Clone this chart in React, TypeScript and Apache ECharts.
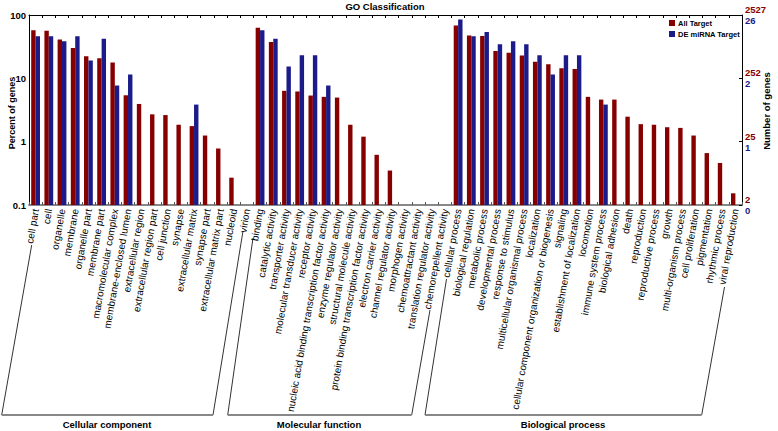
import React, { useEffect, useRef } from 'react';
import * as echarts from 'echarts';

const categories = [
  'cell part', 'cell', 'organelle', 'membrane', 'organelle part', 'membrane part',
  'macromolecular complex', 'membrane-enclosed lumen', 'extracellular region',
  'extracellular region part', 'cell junction', 'synapse', 'extracellular matrix',
  'synapse part', 'extracellular matrix part', 'nucleoid', 'virion',
  'binding', 'catalytic activity', 'transporter activity', 'molecular transducer activity',
  'receptor activity', 'nucleic acid binding transcription factor activity',
  'enzyme regulator activity', 'structural molecule activity',
  'protein binding transcription factor activity', 'electron carrier activity',
  'channel regulator activity', 'morphogen activity', 'chemoattractant activity',
  'translation regulator activity', 'chemorepellent activity',
  'cellular process', 'biological regulation', 'metabolic process', 'developmental process',
  'response to stimulus', 'multicellular organismal process', 'localization',
  'cellular component organization or biogenesis', 'signaling',
  'establishment of localization', 'locomotion', 'immune system process',
  'biological adhesion', 'death', 'reproduction', 'reproductive process', 'growth',
  'multi-organism process', 'cell proliferation', 'pigmentation', 'rhythmic process',
  'viral reproduction',
];

const allTarget: (number | null)[] = [
  57.6, 56.3, 40.9, 30.1, 22.4, 20.8, 17.8, 5.4, 3.94, 2.7, 2.63, 1.85, 1.76, 1.25, 0.78, 0.27, null,
  62.8, 37.5, 6.35, 6.2, 5.35, 5.1, 4.97, 1.85, 1.2, 0.62, 0.35, null, null, null, null,
  68.4, 47.4, 46.8, 27, 25.4, 23, 18.2, 16.7, 14.4, 14.1, 5.1, 4.62, 4.62, 2.48, 1.89, 1.85,
  1.69, 1.65, 1.25, 0.66, 0.46, 0.153,
];

const deTarget: (number | null)[] = [
  46.2, 46.2, 38.5, 46.2, 19.2, 42.3, 7.7, 11.5, null, null, null, null, 3.85, null, null, null, null,
  57.7, 42.3, 15.4, 23.1, 23.1, 7.7, null, null, null, null, null, null, null, null, null,
  84.6, 46.2, 53.8, 34.6, 38.5, 34.6, 23.1, 11.5, 23.1, 23.1, null, 3.85, null, null, null, null,
  null, null, null, null, null, null,
];

const leftTickLabels = ['0.1', '1', '10', '100'];
const rightAllTickLabels = ['2', '25', '252', '2527'];
const rightDeTickLabels = ['0', '1', '2', '26'];

const groupNames = ['Cellular component', 'Molecular function', 'Biological process'];

const RED = '#860000';
const BLUE = '#1b1b8a';
const SANS = "'Liberation Sans', Arial, sans-serif";

const tickIndex = (v: number) => Math.round(Math.log10(v)) + 1;

export default function App() {
  const ref = useRef<HTMLDivElement>(null);
  useEffect(() => {
    if (!ref.current) return;
    const chart = echarts.init(ref.current, null, { renderer: 'svg' });
    const bracketStyle = { stroke: '#333', lineWidth: 1, fill: null as any };
    const boldText = { fontWeight: 'bold', fontFamily: SANS, fill: '#000' };
    const option: any = {
      animation: false,
      backgroundColor: '#fff',
      grid: { left: 29, right: 36, top: 15, bottom: 226, containLabel: false },
      legend: {
        orient: 'vertical',
        left: 669,
        top: 19,
        itemWidth: 6,
        itemHeight: 6,
        itemGap: 3,
        padding: 0,
        icon: 'rect',
        textStyle: { fontSize: 7.5, fontWeight: 'bold', fontFamily: SANS, color: '#000', padding: [0, 0, 0, -2] },
        data: ['All Target', 'DE miRNA Target'],
      },
      xAxis: [
        {
          type: 'category',
          data: categories,
          position: 'bottom',
          axisLine: { lineStyle: { color: '#888', width: 2 } },
          axisTick: { show: true, inside: true, length: 3, interval: 0, lineStyle: { color: '#555' } },
          axisLabel: {
            interval: 0,
            rotate: 80,
            margin: 4,
            fontSize: 10,
            fontFamily: SANS,
            color: '#000',
          },
        },
        {
          type: 'category',
          data: categories,
          position: 'top',
          axisLine: { lineStyle: { color: '#000', width: 1 } },
          axisTick: { show: true, inside: true, length: 3, interval: 0, lineStyle: { color: '#000' } },
          axisLabel: { show: false },
        },
      ],
      yAxis: [
        {
          type: 'log',
          logBase: 10,
          min: 0.1,
          max: 100,
          startValue: 0.1,
          position: 'left',
          axisLine: { show: true, lineStyle: { color: '#000', width: 1 } },
          axisTick: { show: false },
          splitLine: { show: false },
          axisLabel: {
            fontSize: 9.5,
            fontWeight: 'bold',
            fontFamily: SANS,
            color: '#000',
            margin: 3,
            formatter: (v: number) => leftTickLabels[tickIndex(v)] ?? '',
          },
        },
        {
          type: 'log',
          logBase: 10,
          min: 0.1,
          max: 100,
          startValue: 0.1,
          position: 'right',
          axisLine: { show: true, lineStyle: { color: '#000', width: 1 } },
          axisTick: { show: true, inside: true, length: 3, lineStyle: { color: '#000' } },
          splitLine: { show: false },
          axisLabel: {
            margin: 3,
            formatter: (v: number) => {
              const i = tickIndex(v);
              return `{r|${rightAllTickLabels[i]}}\n{b|${rightDeTickLabels[i]}}`;
            },
            rich: {
              r: { color: RED, fontSize: 9.5, fontWeight: 'bold', fontFamily: SANS, lineHeight: 11 },
              b: { color: BLUE, fontSize: 9.5, fontWeight: 'bold', fontFamily: SANS, lineHeight: 11 },
            },
          },
        },
      ],
      series: [
        {
          name: 'All Target',
          type: 'bar',
          xAxisIndex: 0,
          yAxisIndex: 0,
          data: allTarget,
          barWidth: 4.4,
          barGap: '0%',
          itemStyle: { color: RED },
        },
        {
          name: 'DE miRNA Target',
          type: 'bar',
          xAxisIndex: 0,
          yAxisIndex: 0,
          data: deTarget,
          barWidth: 4.4,
          barGap: '0%',
          itemStyle: { color: BLUE },
        },
      ],
      graphic: [
        {
          type: 'text',
          x: 385,
          y: 6,
          style: { ...boldText, text: 'GO Classification', fontSize: 9.5, textAlign: 'center', textVerticalAlign: 'middle' },
        },
        {
          type: 'text',
          x: 12,
          y: 113,
          rotation: Math.PI / 2,
          style: { ...boldText, text: 'Percent of genes', fontSize: 9, textAlign: 'center', textVerticalAlign: 'middle' },
        },
        {
          type: 'text',
          x: 766,
          y: 111,
          rotation: Math.PI / 2,
          style: { ...boldText, text: 'Number of genes', fontSize: 9.5, textAlign: 'center', textVerticalAlign: 'middle' },
        },
        { type: 'polyline', shape: { points: [[31.7, 245], [1.7, 415]] }, style: bracketStyle },
        { type: 'polyline', shape: { points: [[213, 415], [243, 231]] }, style: bracketStyle },
        { type: 'polyline', shape: { points: [[253, 238], [227.7, 415]] }, style: bracketStyle },
        { type: 'polyline', shape: { points: [[411.7, 415], [430, 310]] }, style: bracketStyle },
        { type: 'polyline', shape: { points: [[446.5, 279], [425, 415]] }, style: bracketStyle },
        { type: 'polyline', shape: { points: [[701.7, 415], [724.5, 287]] }, style: bracketStyle },
        { type: 'line', shape: { x1: 1.7, y1: 415, x2: 213, y2: 415 }, style: { stroke: '#888', lineWidth: 2 } },
        { type: 'line', shape: { x1: 227.7, y1: 415, x2: 411.7, y2: 415 }, style: { stroke: '#888', lineWidth: 2 } },
        { type: 'line', shape: { x1: 425, y1: 415, x2: 701.7, y2: 415 }, style: { stroke: '#888', lineWidth: 2 } },
        ...[107, 319, 563].map((x, i) => ({
          type: 'text',
          x,
          y: 424,
          style: { ...boldText, text: groupNames[i], fontSize: 9.5, textAlign: 'center', textVerticalAlign: 'middle' },
        })),
      ],
    };
    chart.setOption(option);
    return () => chart.dispose();
  }, []);
  return (
    <div
      ref={ref}
      style={{ position: 'absolute', left: 0, top: 0, width: 778, height: 431 }}
    />
  );
}
